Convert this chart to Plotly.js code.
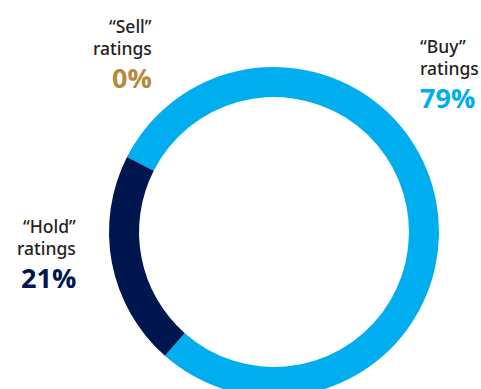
<!DOCTYPE html>
<html>
<head>
<meta charset="utf-8">
<script src="https://cdn.plot.ly/plotly-3.0.1.min.js"></script>
<style>
html,body{margin:0;padding:0;background:#fff;overflow:hidden;width:481px;height:389px;}
#chart{width:481px;height:400px;}
</style>
</head>
<body>
<div id="chart"></div>
<script>
// Data
const categories = ['Buy', 'Hold', 'Sell'];
const shares = [79, 21, 0];
const sliceColors = ['#00AEEF', '#00164F', '#B8893B'];

// Label placement (layout only, pixels from top-left)
const W = 481, H = 400;
const labelPos = {
  Buy:  {x: 418, y: 46, align: 'left'},
  Hold: {x: 78, y: 226, align: 'right'},
  Sell: {x: 154, y: 26, align: 'right'}
};

const annotations = [];
categories.forEach((c, i) => {
  const p = labelPos[c];
  const xa = p.align === 'left' ? 'left' : 'right';
  const lines = [
    {text: '\u201C' + c + '\u201D', dy: 0, font: {family: 'Noto Sans', size: 17.5, color: '#231F20', weight: 500}},
    {text: 'ratings', dy: 22, font: {family: 'Noto Sans', size: 17.5, color: '#231F20', weight: 500}},
    {text: shares[i] + '%', dy: 51, font: {family: 'Open Sans', size: 27, color: sliceColors[i], weight: 700}}
  ];
  lines.forEach(l => {
    annotations.push({
      xref: 'paper', yref: 'paper',
      x: p.x / W, y: (H - (p.y + l.dy)) / H,
      xanchor: xa, yanchor: 'middle',
      text: l.text, showarrow: false,
      font: l.font
    });
  });
});

const trace = {
  type: 'pie',
  labels: categories,
  values: shares,
  sort: false,
  direction: 'clockwise',
  rotation: -63,
  hole: 0.818,
  textinfo: 'none',
  hoverinfo: 'none',
  marker: {colors: sliceColors, line: {width: 0}},
  domain: {x: [109 / W, 439 / W], y: [3 / H, 333 / H]},
  showlegend: false
};

Plotly.newPlot('chart', [trace], {
  width: W, height: H,
  margin: {l: 0, r: 0, t: 0, b: 0},
  paper_bgcolor: '#fff',
  showlegend: false,
  annotations: annotations
}, {staticPlot: true});
</script>
</body>
</html>
